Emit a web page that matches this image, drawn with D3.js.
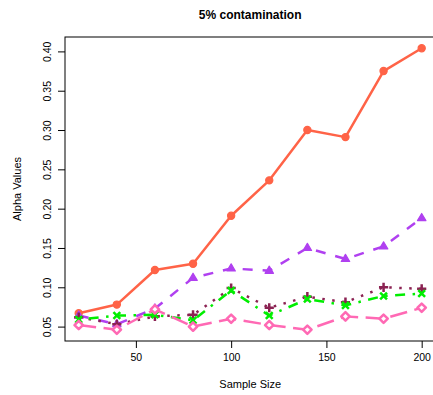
<!DOCTYPE html>
<html>
<head>
<meta charset="utf-8">
<script src="https://cdn.jsdelivr.net/npm/d3@7"></script>
<style>
  html, body { margin: 0; padding: 0; background: #fff; }
  svg { display: block; }
  text { font-family: "Liberation Sans", Arial, Helvetica, sans-serif; fill: #000; }
</style>
</head>
<body>
<svg id="chart" width="433" height="395"></svg>
<script>
// Sample sizes on the x axis
const sampleSizes = [20, 40, 60, 80, 100, 120, 140, 160, 180, 200];

// Alpha values of each method, one array per line
const seriesRed    = [0.067, 0.078, 0.122, 0.130, 0.191, 0.236, 0.300, 0.291, 0.375, 0.404];
const seriesPurple = [0.064, 0.053, 0.073, 0.112, 0.124, 0.121, 0.150, 0.136, 0.152, 0.188];
const seriesMaroon = [0.062, 0.053, 0.063, 0.065, 0.099, 0.074, 0.088, 0.081, 0.100, 0.098];
const seriesGreen  = [0.059, 0.064, 0.065, 0.058, 0.096, 0.064, 0.085, 0.077, 0.089, 0.092];
const seriesPink   = [0.052, 0.046, 0.072, 0.050, 0.060, 0.052, 0.046, 0.063, 0.060, 0.074];

const xTicks = [50, 100, 150, 200];
const yTicks = [0.05, 0.10, 0.15, 0.20, 0.25, 0.30, 0.35, 0.40];

const titleText = "5% contamination";
const xLabel = "Sample Size";
const yLabel = "Alpha Values";

// Style per series: colour, dash pattern, marker
const lw = 2.5;
const series = [
  { values: seriesRed,    color: "#FF6347", dash: null,                     marker: "circle" },
  { values: seriesPurple, color: "#B040F0", dash: [4*lw, 4*lw],             marker: "triangle" },
  { values: seriesMaroon, color: "#8B2252", dash: [1*lw, 3*lw],             marker: "plus" },
  { values: seriesGreen,  color: "#00EE00", dash: [1*lw, 3*lw, 4*lw, 3*lw], marker: "cross" },
  { values: seriesPink,   color: "#FF69B4", dash: [7*lw, 3*lw],             marker: "diamond" }
];

const svg = d3.select("#chart");
const box = { left: 65, right: 435.4, top: 37, bottom: 341 };

// Axis ranges padded by 4% on each side
function padded(lo, hi) {
  const e = (hi - lo) * 0.04;
  return [lo - e, hi + e];
}
const allY = series.flatMap(s => s.values);
const x = d3.scaleLinear().domain(padded(d3.min(sampleSizes), d3.max(sampleSizes))).range([box.left, box.right]);
const y = d3.scaleLinear().domain(padded(d3.min(allY), d3.max(allY))).range([box.bottom, box.top]);

// Lines and markers
const line = d3.line().x((d, i) => x(sampleSizes[i])).y(d => y(d));

series.forEach(s => {
  const g = svg.append("g");
  g.append("path")
    .datum(s.values)
    .attr("d", line)
    .attr("fill", "none")
    .attr("stroke", s.color)
    .attr("stroke-width", lw)
    .attr("stroke-linejoin", "round")
    .attr("stroke-dasharray", s.dash ? s.dash.join(",") : null);

  const pts = g.selectAll(".pt").data(s.values).enter().append("g")
    .attr("transform", (d, i) => `translate(${x(sampleSizes[i])},${y(d)})`);

  if (s.marker === "circle") {
    pts.append("circle").attr("r", 3.6).attr("fill", s.color)
      .attr("stroke", s.color).attr("stroke-width", 1.2);
  } else if (s.marker === "triangle") {
    const r = 4.6;
    pts.append("path")
      .attr("d", `M0,${-r} L${r * 0.92},${r * 0.55} L${-r * 0.92},${r * 0.55} Z`)
      .attr("fill", s.color).attr("stroke", s.color).attr("stroke-width", 1.2)
      .attr("stroke-linejoin", "round");
  } else if (s.marker === "plus") {
    const r = 4.6;
    pts.append("path").attr("d", `M${-r},0 L${r},0 M0,${-r} L0,${r}`)
      .attr("stroke", s.color).attr("stroke-width", lw).attr("fill", "none");
  } else if (s.marker === "cross") {
    const r = 3.4;
    pts.append("path").attr("d", `M${-r},${-r} L${r},${r} M${-r},${r} L${r},${-r}`)
      .attr("stroke", s.color).attr("stroke-width", lw).attr("fill", "none");
  } else if (s.marker === "diamond") {
    const r = 4.2;
    pts.append("path").attr("d", `M0,${-r} L${r},0 L0,${r} L${-r},0 Z`)
      .attr("fill", "#fff").attr("stroke", s.color).attr("stroke-width", lw)
      .attr("stroke-linejoin", "round");
  }
});

// Plot frame
svg.append("rect")
  .attr("x", box.left).attr("y", box.top)
  .attr("width", box.right - box.left).attr("height", box.bottom - box.top)
  .attr("fill", "none").attr("stroke", "#000").attr("stroke-width", 1);

// Bottom axis
const xAxis = d3.axisBottom(x).tickValues(xTicks).tickSize(7).tickPadding(5).tickFormat(d3.format("d"));
const gx = svg.append("g").attr("transform", `translate(0,${box.bottom})`).call(xAxis);
gx.select(".domain").remove();
gx.selectAll(".tick line").attr("stroke", "#000");
gx.selectAll("text").attr("font-size", "10.5px").attr("font-family", "Liberation Sans, Arial, sans-serif")
  .attr("y", 16).attr("dy", "0.35em").attr("fill", "#000");

// Left axis with rotated labels
const yAxis = d3.axisLeft(y).tickValues(yTicks).tickSize(7).tickFormat(d3.format(".2f"));
const gy = svg.append("g").attr("transform", `translate(${box.left},0)`).call(yAxis);
gy.select(".domain").remove();
gy.selectAll(".tick line").attr("stroke", "#000");
gy.selectAll("text")
  .attr("font-size", "10.5px").attr("font-family", "Liberation Sans, Arial, sans-serif").attr("fill", "#000")
  .attr("x", null).attr("dy", null)
  .attr("text-anchor", "middle")
  .attr("transform", "translate(-14,0) rotate(-90)");

// Title and axis titles
svg.append("text").attr("x", (box.left + box.right) / 2).attr("y", 19)
  .attr("text-anchor", "middle").attr("font-size", "12px").attr("font-weight", "bold").text(titleText);

svg.append("text").attr("x", (box.left + box.right) / 2).attr("y", 388)
  .attr("text-anchor", "middle").attr("font-size", "11px").text(xLabel);

svg.append("text")
  .attr("transform", `translate(21,${(box.top + box.bottom) / 2}) rotate(-90)`)
  .attr("text-anchor", "middle").attr("font-size", "11px").text(yLabel);
</script>
</body>
</html>
